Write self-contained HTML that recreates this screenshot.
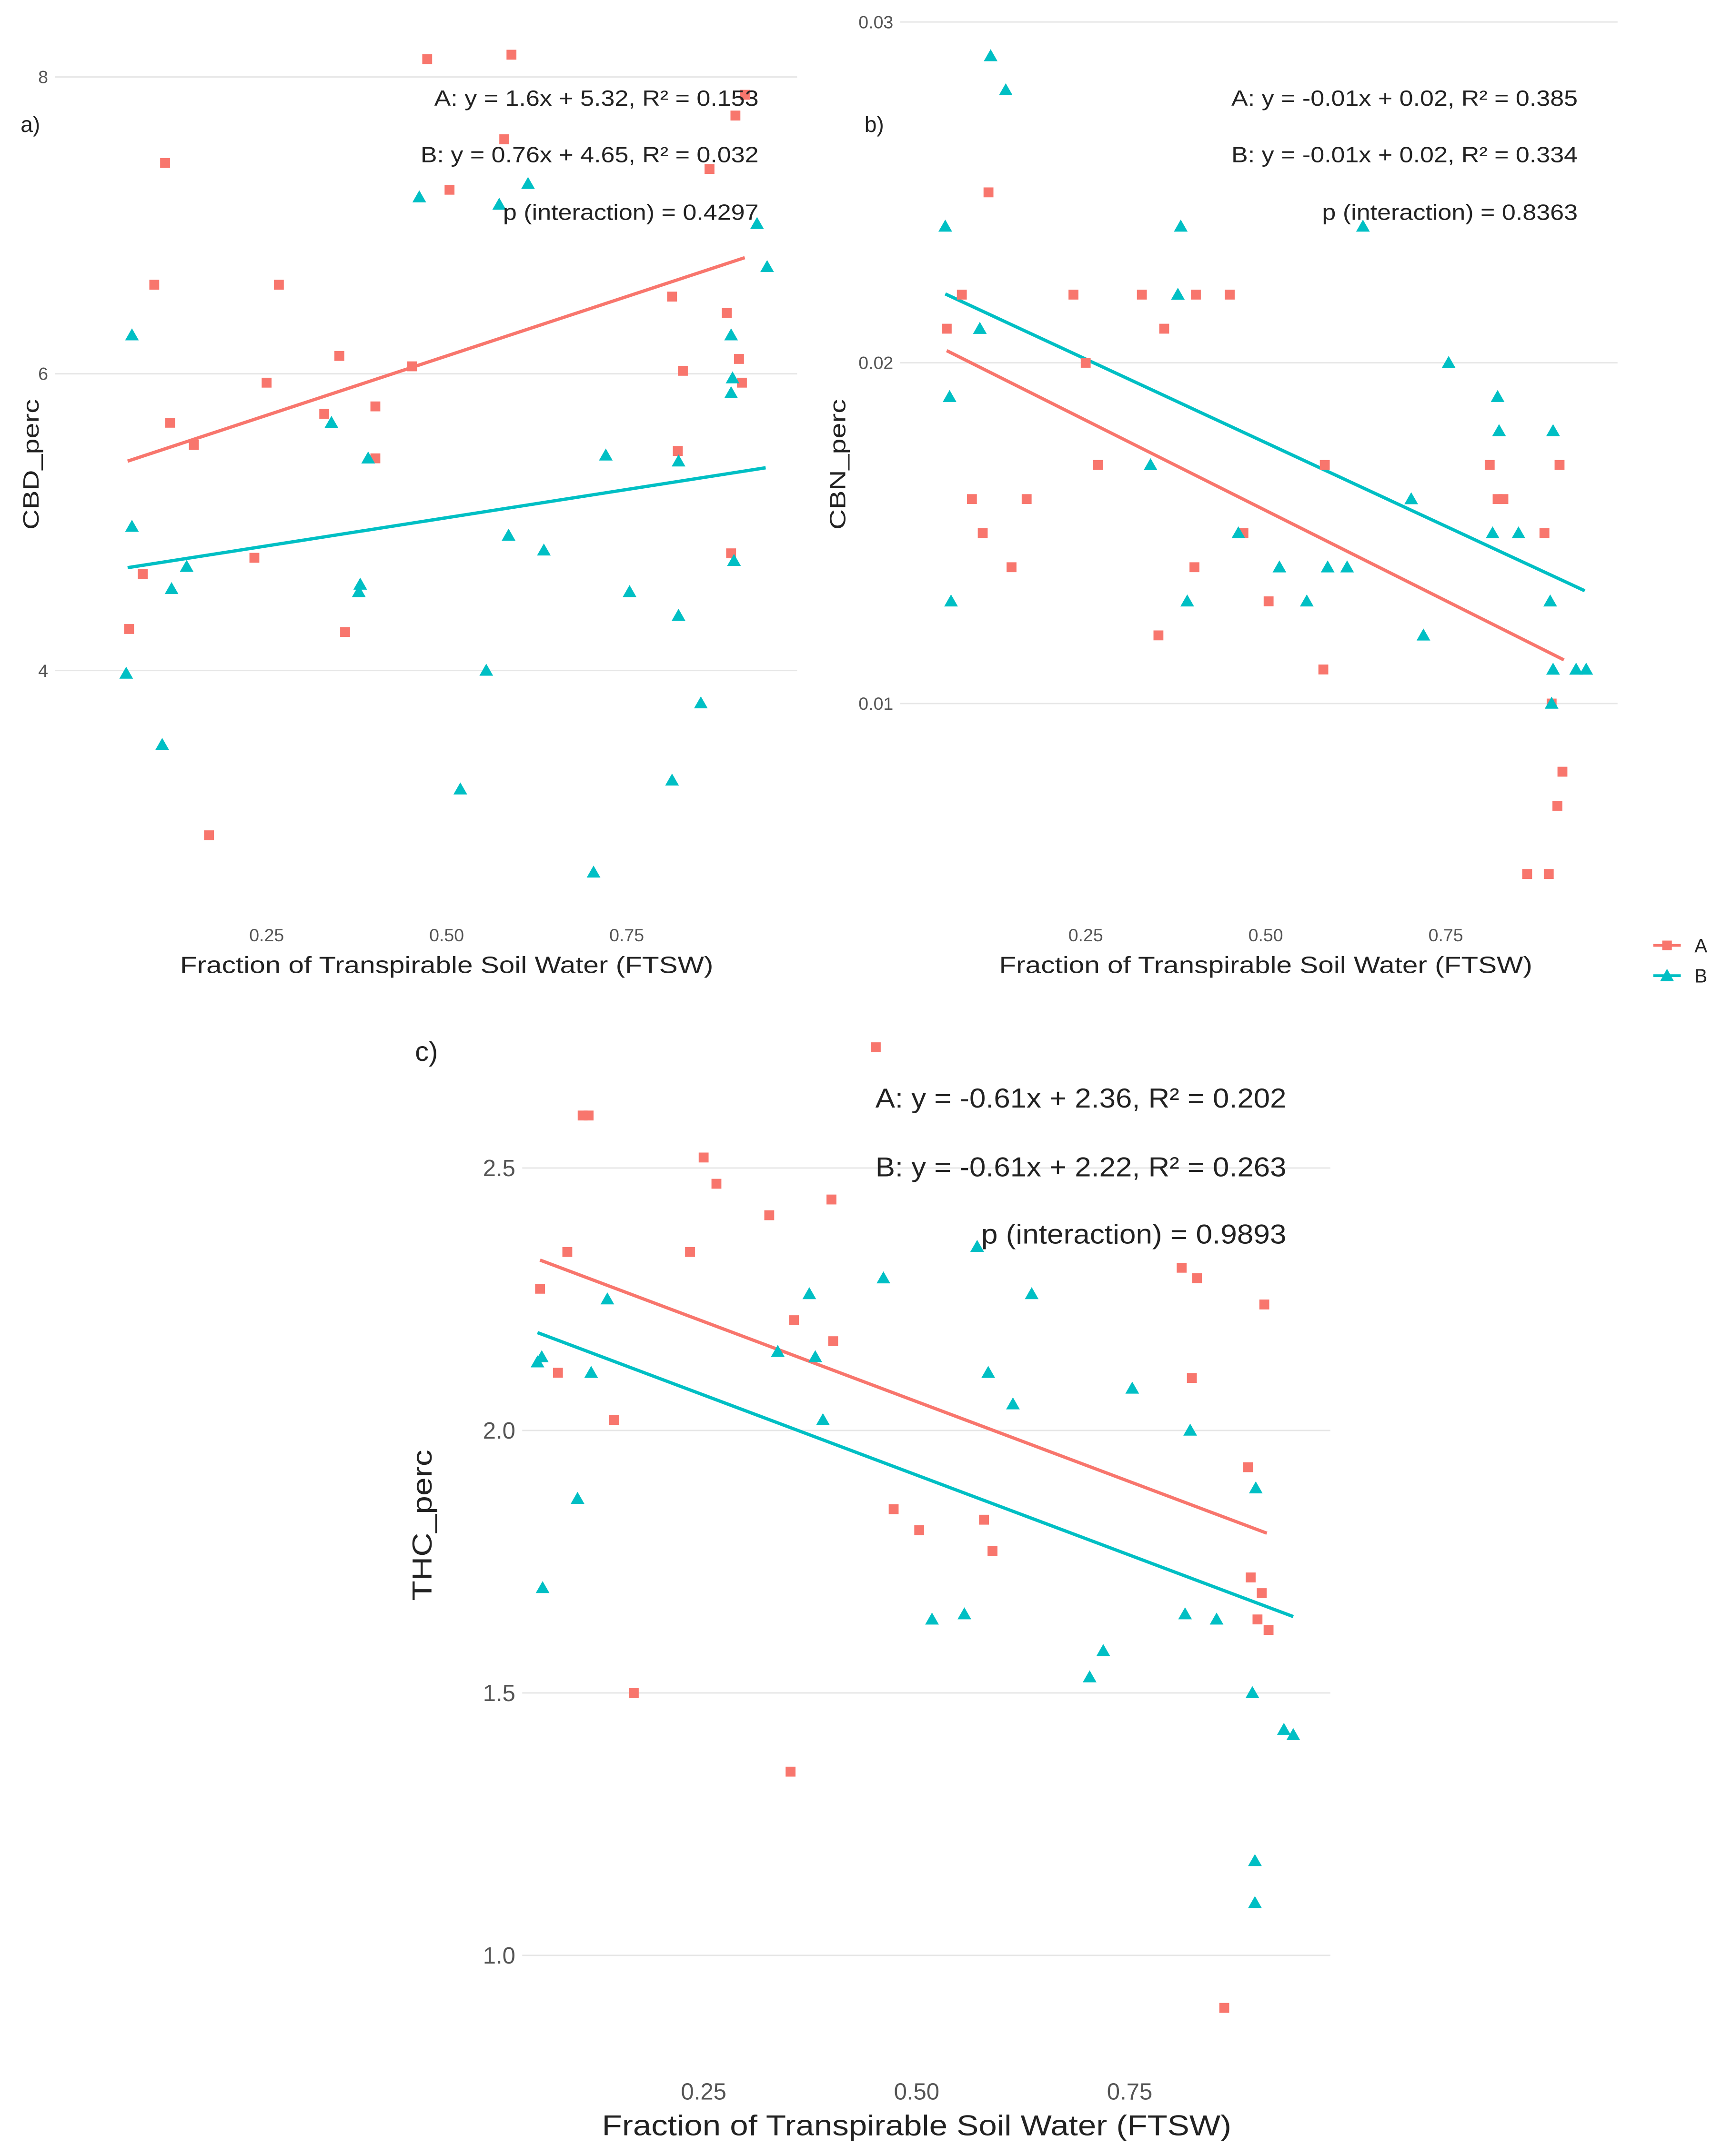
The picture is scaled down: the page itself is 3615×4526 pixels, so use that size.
<!DOCTYPE html>
<html><head><meta charset="utf-8"><style>
html,body{margin:0;padding:0;background:#fff;}
svg{display:block;font-family:"Liberation Sans",sans-serif;}
</style></head><body>
<svg id="chart" width="3615" height="4526" viewBox="0 0 1253 1569" preserveAspectRatio="none" xmlns="http://www.w3.org/2000/svg"></svg>
<script>
// ---- Panel a data (CBD_perc) ----
const aAx=[0.473,0.590,0.109,0.094,0.116,0.149,0.078,0.059,0.170,0.250,0.267,0.233,0.330,0.351,0.359,0.401,0.401,0.452,0.504,0.580,0.914,0.901,0.865,0.813,0.828,0.821,0.889,0.906,0.910,0.895];
const aAy=[8.12,8.15,7.42,6.60,5.67,5.52,4.65,4.28,2.89,5.94,6.60,4.76,5.73,6.12,4.26,5.78,5.43,6.05,7.24,7.58,7.88,7.74,7.38,6.52,6.02,5.48,6.41,6.10,5.94,4.79];
const aBx=[0.063,0.063,0.055,0.105,0.118,0.139,0.340,0.391,0.380,0.378,0.462,0.519,0.573,0.586,0.613,0.635,0.721,0.704,0.754,0.555,0.822,0.822,0.813,0.853,0.895,0.897,0.895,0.899,0.931,0.945];
const aBy=[6.26,4.97,3.98,3.50,4.55,4.70,5.67,5.43,4.58,4.53,7.19,3.20,7.14,4.91,7.28,4.81,5.45,2.64,4.53,4.00,5.41,4.37,3.26,3.78,6.26,5.97,5.87,4.74,7.01,6.72];
const aSlope=[1.6,0.76], aInt=[5.32,4.65], aRange=[[0.057,0.914],[0.057,0.943]];
// ---- Panel b data (CBN_perc) ----
const bAx=[0.115,0.057,0.078,0.092,0.107,0.147,0.168,0.233,0.250,0.267,0.328,0.359,0.351,0.403,0.401,0.450,0.469,0.504,0.582,0.580,0.811,0.822,0.830,0.887,0.908,0.897,0.905,0.912,0.863,0.893];
const bAy=[0.0250,0.0210,0.0220,0.0160,0.0150,0.0140,0.0160,0.0220,0.0200,0.0170,0.0220,0.0210,0.0120,0.0220,0.0140,0.0220,0.0150,0.0130,0.0170,0.0110,0.0170,0.0160,0.0160,0.0150,0.0170,0.0100,0.0070,0.0080,0.0050,0.0050];
const bBx=[0.118,0.139,0.055,0.061,0.063,0.103,0.340,0.382,0.378,0.391,0.462,0.519,0.557,0.586,0.613,0.635,0.702,0.719,0.754,0.822,0.824,0.815,0.851,0.899,0.895,0.899,0.897,0.931,0.945];
const bBy=[0.0290,0.0280,0.0240,0.0190,0.0130,0.0210,0.0170,0.0240,0.0220,0.0130,0.0150,0.0140,0.0130,0.0140,0.0140,0.0240,0.0160,0.0120,0.0200,0.0190,0.0180,0.0150,0.0150,0.0180,0.0130,0.0110,0.0100,0.0110,0.0110];
const bSlope=[-0.01059,-0.00981], bInt=[0.02096,0.02256], bRange=[[0.057,0.914],[0.055,0.943]];
// ---- Panel c data (THC_perc) ----
const cAx=[0.452,0.115,0.108,0.058,0.090,0.079,0.145,0.168,0.250,0.234,0.265,0.327,0.356,0.400,0.402,0.352,0.473,0.503,0.579,0.589,0.811,0.829,0.823,0.908,0.889,0.892,0.905,0.900,0.913,0.861];
const cAy=[2.73,2.60,2.60,2.27,2.34,2.11,2.02,1.50,2.52,2.34,2.47,2.41,2.21,2.44,2.17,1.35,1.85,1.81,1.83,1.77,2.31,2.29,2.10,2.24,1.93,1.72,1.69,1.64,1.62,0.90];
const cBx=[0.055,0.060,0.061,0.102,0.118,0.137,0.337,0.374,0.381,0.390,0.461,0.518,0.556,0.571,0.584,0.613,0.635,0.703,0.719,0.753,0.821,0.815,0.852,0.898,0.894,0.897,0.897,0.931,0.942];
const cBy=[2.13,2.14,1.70,1.87,2.11,2.25,2.15,2.26,2.14,2.02,2.29,1.64,1.65,2.35,2.11,2.05,2.26,1.53,1.58,2.08,2.00,1.65,1.64,1.89,1.50,1.18,1.10,1.43,1.42];
const cSlope=[-0.61,-0.61], cInt=[2.36,2.22], cRange=[[0.058,0.911],[0.055,0.942]];
const xTicks=[0.25,0.50,0.75];
const aYTicks=[4,6,8], bYTicks=[0.01,0.02,0.03], cYTicks=[1.0,1.5,2.0,2.5];
const bLabels=["0.01","0.02","0.03"], cLabels=["1.0","1.5","2.0","2.5"];

const NS="http://www.w3.org/2000/svg";
const svg=document.getElementById('chart');
const RED="#F8766D", TEAL="#00BFC4";
function mk(tag,attrs,parent){const e=document.createElementNS(NS,tag);for(const k in attrs)e.setAttribute(k,attrs[k]);(parent||svg).appendChild(e);return e;}
function txt(s,x,y,size,anchor,parent,rot,len){const t=mk('text',{x:x,y:y,'font-size':size,'text-anchor':anchor||'middle',fill:'#222'},parent);if(rot)t.setAttribute('transform','rotate(-90 '+x+' '+y+')');if(len){t.setAttribute('textLength',len);t.setAttribute('lengthAdjust','spacingAndGlyphs');}t.textContent=s;return t;}

function panel(cfg){
  const g=mk('g',{});
  
  
  const X=v=>cfg.x0+v*cfg.xs, Y=v=>cfg.yRef-(v-cfg.yRefV)*cfg.ys;
  cfg.yTicks.forEach((v,i)=>{
    const l=mk('line',{x1:cfg.gx0,x2:cfg.gx1,y1:Y(v),y2:Y(v),stroke:'#e6e6e6','stroke-width':1},g);
    
    
    const t=txt(cfg.yLab?cfg.yLab[i]:String(v),cfg.gx0-5,Y(v)+cfg.tf*0.35,cfg.tf,'end',g);
    t.setAttribute('fill','#555');
    
    
  });
  xTicks.forEach(v=>{
    const t=txt(v.toFixed(2),X(v),cfg.xTickY,cfg.tf,'middle',g);
    t.setAttribute('fill','#555');
    
    
  });
  [RED,TEAL].forEach((c,i)=>{
    const r=cfg.range[i];
    const l=mk('line',{x1:X(r[0]),y1:Y(cfg.int[i]+cfg.slope[i]*r[0]),x2:X(r[1]),y2:Y(cfg.int[i]+cfg.slope[i]*r[1]),stroke:c,'stroke-width':2.4},g);
    
    
  });
  cfg.Ax.forEach((v,i)=>{
    const s=3.6;
    const r=mk('rect',{x:X(v)-s,y:Y(cfg.Ay[i])-s,width:2*s,height:2*s,fill:RED},g);
    
    
  });
  cfg.Bx.forEach((v,i)=>{
    const cx=X(v),cy=Y(cfg.By[i]),s=5;
    const p=mk('polygon',{points:(cx)+','+(cy-s)+' '+(cx-s)+','+(cy+s*0.75)+' '+(cx+s)+','+(cy+s*0.75),fill:TEAL},g);
    
    
  });
  cfg.ann.forEach((s,i)=>{
    const t=txt(s,cfg.annX,cfg.annY[i],cfg.af,'end',g,false,cfg.annLen[i]);
    
    
  });
  let t=txt(cfg.panelLabel,cfg.plx,cfg.ply,cfg.af,'start',g);
  
  
  t=txt(cfg.yTitle,cfg.ytx,cfg.yty,cfg.yf,'middle',g,true,cfg.ytLen);
  
  
  t=txt('Fraction of Transpirable Soil Water (FTSW)',cfg.xtx,cfg.xty,cfg.xf,'middle',g,false,cfg.xtLen);
  
  
}

panel({name:'panel-a-cbd',x0:63,xs:524,yRef:56,yRefV:8,ys:108,gx0:40,gx1:580,yTicks:aYTicks,tf:13,xTickY:685,
  Ax:aAx,Ay:aAy,Bx:aBx,By:aBy,slope:aSlope,int:aInt,range:aRange,
  ann:['A: y = 1.6x + 5.32, R² = 0.153','B: y = 0.76x + 4.65, R² = 0.032','p (interaction) = 0.4297'],annLen:[236,246,186],annX:552,annY:[77,118,160],af:16,
  panelLabel:'a)',plx:15,ply:96,yTitle:'CBD_perc',ytx:28,yty:338,yf:16,ytLen:95,xtx:325,xty:708,xf:17,xtLen:388});
panel({name:'panel-b-cbn',x0:659,xs:524,yRef:264,yRefV:0.02,ys:24800,gx0:655,gx1:1177,yTicks:bYTicks,yLab:bLabels,tf:13,xTickY:685,
  Ax:bAx,Ay:bAy,Bx:bBx,By:bBy,slope:bSlope,int:bInt,range:bRange,
  ann:['A: y = -0.01x + 0.02, R² = 0.385','B: y = -0.01x + 0.02, R² = 0.334','p (interaction) = 0.8363'],annLen:[252,252,186],annX:1148,annY:[77,118,160],af:16,
  panelLabel:'b)',plx:629,ply:96,yTitle:'CBN_perc',ytx:615,yty:338,yf:16,ytLen:95,xtx:921,xty:708,xf:17,xtLen:388});
panel({name:'panel-c-thc',x0:357,xs:620,yRef:850,yRefV:2.5,ys:382,gx0:380,gx1:968,yTicks:cYTicks,yLab:cLabels,tf:17,xTickY:1528,
  Ax:cAx,Ay:cAy,Bx:cBx,By:cBy,slope:cSlope,int:cInt,range:cRange,
  ann:['A: y = -0.61x + 2.36, R² = 0.202','B: y = -0.61x + 2.22, R² = 0.263','p (interaction) = 0.9893'],annLen:[299,299,222],annX:936,annY:[806,856,905],af:20,
  panelLabel:'c)',plx:302,ply:772,yTitle:'THC_perc',ytx:314,yty:1110,yf:20,ytLen:110,xtx:667,xty:1554,xf:21,xtLen:458});

const lg=mk('g',{});


[[RED,'A',688],[TEAL,'B',710]].forEach(([c,l,y])=>{
  const ln=mk('line',{x1:1203,x2:1223,y1:y,y2:y,stroke:c,'stroke-width':2},lg);
  
  
  if(l==='A'){const r=mk('rect',{x:1209.5,y:y-3.5,width:7,height:7,fill:c},lg);
    
    }
  else{const p=mk('polygon',{points:'1213,'+(y-5)+' 1208,'+(y+4)+' 1218,'+(y+4),fill:c},lg);
    
    }
  const t=txt(l,1233,y+5,14,'start',lg);
  
  
});
</script>
</body></html>
